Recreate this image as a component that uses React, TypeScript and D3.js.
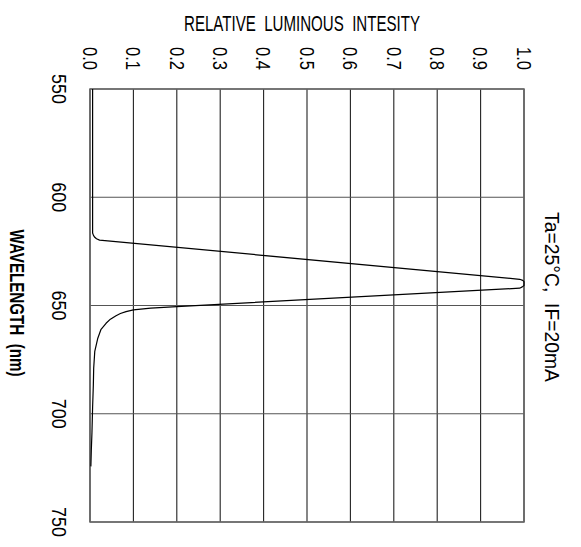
import React, { useEffect, useRef } from "react";
import * as d3 from "d3";

const wavelengths = [550, 600, 616.5, 617.6, 618.5, 619.2, 619.8, 637.9, 638.4, 639.0, 640.8, 641.4, 642.0, 650.5, 651.2, 652.0, 652.8, 653.7, 654.7, 656.3, 658.2, 661.2, 665.1, 671.2, 679, 686.7, 697, 708.8, 717, 724.3];
const intensity = [0.006, 0.006, 0.006, 0.008, 0.011, 0.015, 0.022, 0.99, 0.997, 1.0, 1.0, 0.996, 0.99, 0.2, 0.14, 0.1, 0.083, 0.07, 0.06, 0.047, 0.037, 0.025, 0.018, 0.011, 0.0085, 0.0077, 0.006, 0.0045, 0.003, 0.002];
const xTicks = [0.0, 0.1, 0.2, 0.3, 0.4, 0.5, 0.6, 0.7, 0.8, 0.9, 1.0];
const yTicks = [550, 600, 650, 700, 750];
const title = "RELATIVE  LUMINOUS  INTESITY";
const yTitle = "WAVELENGTH  (nm)";
const note = "Ta=25°C,  IF=20mA";

const W = 581, H = 547;
const FONT = "'Liberation Sans Narrow', 'Liberation Sans', 'DejaVu Sans Condensed', sans-serif";

export default function App() {
  const ref = useRef<SVGSVGElement>(null);
  useEffect(() => {
    const svg = d3.select(ref.current);
    svg.selectAll("*").remove();
    const x = d3.scaleLinear().domain([0, 1]).range([90, 524]);
    const y = d3.scaleLinear().domain([550, 750]).range([89, 522]);

    const g = svg.append("g");
    g.selectAll("line.vx").data(xTicks).join("line")
      .attr("x1", d => x(d)).attr("x2", d => x(d)).attr("y1", y(550)).attr("y2", y(750))
      .attr("stroke", "#222").attr("stroke-width", 1.1);
    g.selectAll("line.hy").data(yTicks).join("line")
      .attr("x1", x(0)).attr("x2", x(1)).attr("y1", d => y(d)).attr("y2", d => y(d))
      .attr("stroke", "#555").attr("stroke-width", 1.2);
    g.append("rect").attr("x", x(0)).attr("y", y(550)).attr("width", x(1) - x(0)).attr("height", y(750) - y(550))
      .attr("fill", "none").attr("stroke", "#666").attr("stroke-width", 1.5);

    const pts = wavelengths.map((w, i) => [intensity[i], w] as [number, number]);
    const line = d3.line<[number, number]>().x(d => x(d[0])).y(d => y(d[1])).curve(d3.curveLinear);
    g.append("path").attr("d", line(pts) as string).attr("fill", "none").attr("stroke", "#000")
      .attr("stroke-width", 1.2).attr("stroke-linejoin", "round");

    const rotText = (cx: number, cy: number, text: string, size: number, len: number, weight = "normal") => {
      svg.append("text")
        .attr("transform", `translate(${cx},${cy}) rotate(90)`)
        .attr("x", 0).attr("y", size * 0.36)
        .attr("text-anchor", "middle")
        .attr("font-family", FONT).attr("font-size", size).attr("font-weight", weight)
        .attr("textLength", len).attr("lengthAdjust", "spacingAndGlyphs")
        .style("white-space", "pre")
        .attr("fill", "#000")
        .text(text);
    };

    xTicks.forEach(t => rotText(x(t), 58.5, d3.format(".1f")(t), 20, 23));
    yTicks.forEach(t => rotText(59, y(t), String(t), 20, 30));
    rotText(17.5, 303, yTitle, 20, 147, "bold");
    rotText(553, 297, note, 21, 170);

    svg.append("text")
      .attr("x", 302).attr("y", 31).attr("text-anchor", "middle")
      .attr("font-family", FONT).attr("font-size", 22)
      .attr("textLength", 236).attr("lengthAdjust", "spacingAndGlyphs")
      .style("white-space", "pre")
      .attr("fill", "#000")
      .text(title);
  }, []);
  return (
    <svg ref={ref} width={W} height={H} style={{ position: "absolute", left: 0, top: 0, background: "#fff" }} />
  );
}
